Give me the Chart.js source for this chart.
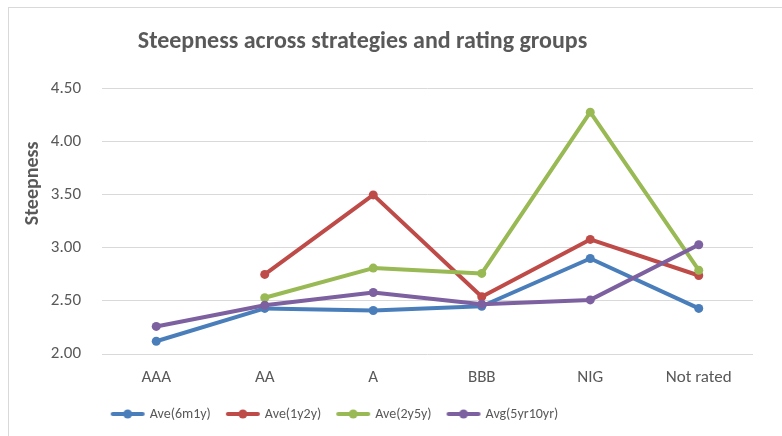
<!DOCTYPE html>
<html>
<head>
<meta charset="utf-8">
<script src="https://cdn.jsdelivr.net/npm/chart.js@4"></script>
<style>
  html, body { margin: 0; padding: 0; background: #ffffff; overflow: hidden; }
  #wrap { position: relative; width: 782px; height: 436px; }
  #frame { position: absolute; left: 8px; top: 7px; width: 800px; height: 450px;
           border-left: 1px solid #d9d9d9; border-top: 1px solid #d9d9d9; pointer-events: none; }
  canvas { position: absolute; left: 0; top: 0; }
</style>
</head>
<body>
<div id="wrap">
  <div id="frame"></div>
  <canvas id="c" width="782" height="436"></canvas>
</div>
<script>
// ---- data ----
const categories = ['AAA', 'AA', 'A', 'BBB', 'NIG', 'Not rated'];
const ave6m1y    = [2.12, 2.43, 2.41, 2.45, 2.90, 2.43];
const ave1y2y    = [null, 2.75, 3.50, 2.54, 3.08, 2.74];
const ave2y5y    = [null, 2.53, 2.81, 2.76, 4.28, 2.79];
const avg5yr10yr = [2.26, 2.46, 2.58, 2.47, 2.51, 3.03];
const seriesNames = ['Ave(6m1y)', 'Ave(1y2y)', 'Ave(2y5y)', 'Avg(5yr10yr)'];
const yTicks = [2.00, 2.50, 3.00, 3.50, 4.00, 4.50];
const chartTitle = 'Steepness across strategies and rating groups';
const yTitle = 'Steepness';

const colors = ['#4A7EBB', '#BE4B48', '#98B954', '#7D60A0'];
const FONT = 'Carlito, Calibri, Lato, "Open Sans", sans-serif';
const TEXT = '#595959';

function legendIcon(color) {
  const c = document.createElement('canvas');
  c.width = 36; c.height = 12;
  const g = c.getContext('2d');
  g.strokeStyle = color; g.lineWidth = 4; g.lineCap = 'round';
  g.beginPath(); g.moveTo(3, 6); g.lineTo(33, 6); g.stroke();
  g.fillStyle = color; g.beginPath(); g.arc(18, 6, 4.5, 0, Math.PI * 2); g.fill();
  return c;
}
const icons = colors.map(legendIcon);

function ds(i, data, order) {
  return {
    label: seriesNames[i], data,
    borderColor: colors[i], backgroundColor: colors[i],
    borderWidth: 4, pointRadius: 4.5, pointHoverRadius: 4.5,
    pointBackgroundColor: colors[i], pointBorderColor: colors[i], pointBorderWidth: 0,
    tension: 0, spanGaps: false, order,
    borderCapStyle: 'round', borderJoinStyle: 'round'
  };
}

const shiftPlugin = {
  id: 'excelShift',
  afterLayout(chart) {
    const t = chart.titleBlock;
    if (t) { t.left -= 14; t.right -= 14; }
    const l = chart.legend;
    if (l) { l.left -= 41; l.right -= 41; }
    const ys = chart.scales.y;
    if (ys && !ys._patched) {
      const orig = ys.drawTitle.bind(ys);
      ys.drawTitle = function () {
        this.ctx.save(); this.ctx.translate(0, -38); orig(); this.ctx.restore();
      };
      ys._patched = true;
    }
  }
};

new Chart(document.getElementById('c'), {
  type: 'line',
  data: {
    labels: categories,
    datasets: [ds(0, ave6m1y, 4), ds(1, ave1y2y, 3), ds(2, ave2y5y, 2), ds(3, avg5yr10yr, 1)]
  },
  plugins: [shiftPlugin],
  options: {
    responsive: false,
    animation: false,
    layout: { padding: { left: 0, right: 29, top: 0, bottom: 5 } },
    plugins: {
      title: {
        display: true, text: chartTitle, color: TEXT,
        font: { family: FONT, size: 24, weight: 'bold' },
        padding: { top: 28, bottom: 32 }
      },
      legend: {
        position: 'bottom',
        labels: {
          color: TEXT, font: { family: FONT, size: 14 },
          usePointStyle: true, pointStyleWidth: 30, boxHeight: 10, padding: 17,
          sort: (a, b) => a.datasetIndex - b.datasetIndex,
          generateLabels(chart) {
            const items = Chart.defaults.plugins.legend.labels.generateLabels(chart);
            items.forEach(it => { it.pointStyle = icons[it.datasetIndex]; });
            return items;
          }
        }
      },
      tooltip: { enabled: false }
    },
    scales: {
      x: {
        offset: true,
        afterFit(scale) { scale.height = 36; },
        grid: { display: false, drawTicks: false },
        border: { display: false },
        ticks: { color: TEXT, font: { family: FONT, size: 17 }, padding: 14, maxRotation: 0 }
      },
      y: {
        min: yTicks[0], max: yTicks[yTicks.length - 1],
        afterFit(scale) { scale.width = 102; },
        grid: { color: '#d9d9d9', lineWidth: 1, drawTicks: false },
        border: { display: false },
        ticks: { color: TEXT, font: { family: FONT, size: 17 }, padding: 21,
                 stepSize: yTicks[1] - yTicks[0],
                 callback: v => Number(v).toFixed(2) },
        title: { display: true, text: yTitle, color: TEXT,
                 font: { family: FONT, size: 20, weight: 'bold' }, padding: { top: 21, bottom: 0 } }
      }
    }
  }
});
</script>
</body>
</html>
